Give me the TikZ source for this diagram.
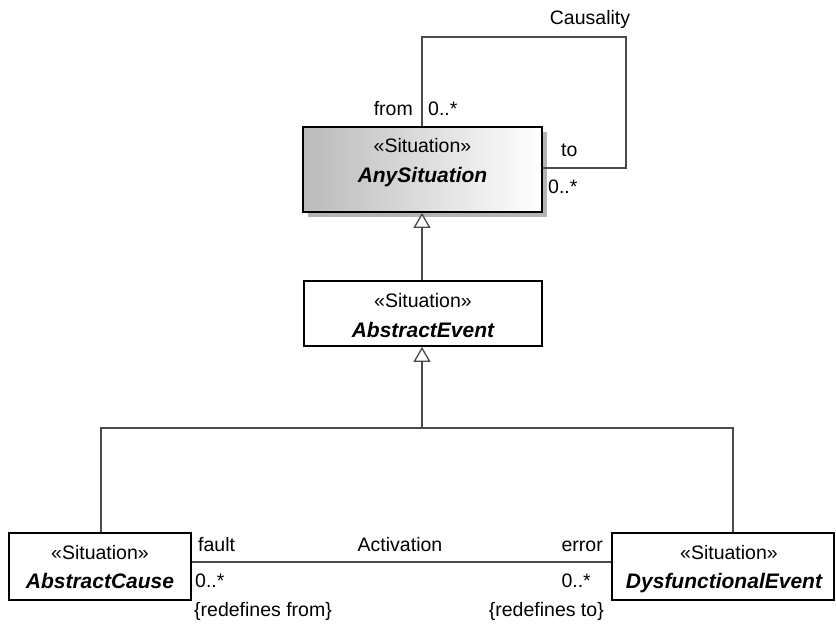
\documentclass[tikz,border=0pt]{standalone}
\usepackage{fontspec}
\setmainfont{Liberation Sans}
\usetikzlibrary{arrows.meta,shadows}
\definecolor{linegray}{HTML}{4A4A4A}
\definecolor{shadowgray}{HTML}{B4B4B4}
\tikzset{
  box/.style={draw=black, line width=1.8pt, inner sep=0pt, fill=white},
  anybox/.style={box, left color=black!27, right color=white, drop shadow={shadow xshift=4.5pt, shadow yshift=-4.5pt, fill=shadowgray, opacity=1}},
  stereo/.style={anchor=base, inner sep=0pt, font=\fontsize{19.5}{23}\selectfont},
  cname/.style={anchor=base, inner sep=0pt, font=\fontsize{21}{25}\selectfont\bfseries\itshape},
  lbl/.style={inner sep=0pt, font=\fontsize{19.5}{23}\selectfont},
  conn/.style={draw=linegray, line width=1.5pt},
  gen/.style={conn, -{Triangle[open, length=15pt, width=17pt, line width=1.3pt, fill=white]}},
}
\begin{document}
\begin{tikzpicture}[x=1pt, y=-1pt]
\useasboundingbox (0,0) rectangle (836,626);
% boxes
\node[anybox, minimum width=239pt, minimum height=85pt] (any) at (422.5,169.5) {};
\node[box, minimum width=238pt, minimum height=65pt] (aev) at (423,313.5) {};
\node[box, minimum width=182pt, minimum height=67pt] (acause) at (100,566.5) {};
\node[box, minimum width=222pt, minimum height=67pt] (dys) at (723,566.5) {};
% box texts
\node[stereo] (anyS) at (422.5,152) {«Situation»};
\node[cname] (anyN) at (422.5,182) {AnySituation};
\node[stereo] (aevS) at (423,307) {«Situation»};
\node[cname] (aevN) at (423,337) {AbstractEvent};
\node[stereo] (acS) at (100,559) {«Situation»};
\node[cname] (acN) at (100,588) {AbstractCause};
\node[stereo] (dyS) at (729,559) {«Situation»};
\node[cname] (dyN) at (724,588) {DysfunctionalEvent};
% Causality loop
\coordinate (cz1) at (422,37);
\coordinate (cz2) at (626,37);
\coordinate (cz3) at (626,168);
\draw[conn] (any.north -| cz1) -- (cz1) -- (cz2) -- (cz3) -- (any.east |- cz3);
\node[lbl, anchor=base] (causality) at (590,25) {Causality};
\node[lbl, anchor=base east] (from) at (413,115) {from};
\node[lbl, anchor=base west] (m1) at (428,115) {0..*};
\node[lbl, anchor=base west] (to) at (561,157) {to};
\node[lbl, anchor=base west] (m2) at (548,193) {0..*};
% generalizations
\coordinate (jL) at (101,428);
\coordinate (jR) at (733,428);
\coordinate (jM) at (422,428);
\draw[gen] (aev.north -| jM) -- (any.south -| jM);
\draw[gen] (jM) -- (aev.south -| jM);
\draw[conn] (acause.north -| jL) -- (jL) -- (jR) -- (dys.north -| jR);
% Activation association
\draw[conn] (acause.east |- 0,562) -- (dys.west |- 0,562);
\node[lbl, anchor=base west] (fault) at (198,551) {fault};
\node[lbl, anchor=base] (act) at (400,551) {Activation};
\node[lbl, anchor=base east] (err) at (603,551) {error};
\node[lbl, anchor=base west] (m3) at (195,587) {0..*};
\node[lbl, anchor=base east] (m4) at (591,587) {0..*};
\node[lbl, anchor=base west] (rf) at (194,616) {\{redefines from\}};
\node[lbl, anchor=base east] (rt) at (604,616) {\{redefines to\}};
\end{tikzpicture}
\end{document}
